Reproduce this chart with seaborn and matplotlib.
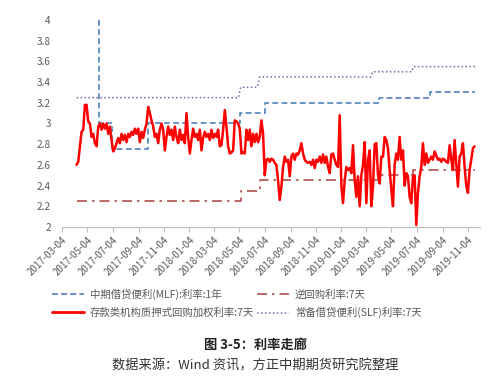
import matplotlib
matplotlib.use("Agg")
import matplotlib.pyplot as plt
from matplotlib.ticker import FuncFormatter
from matplotlib.lines import Line2D
import seaborn as sns
import pandas as pd

# ---------------- data ----------------
red_label = "存款类机构质押式回购加权利率:7天"
red_start = "2017-04-08"
red_vals = [
    2.60, 2.63, 2.78, 2.92, 2.94, 3.18, 3.18, 3.02, 3.00, 2.87, 2.90, 2.81, 2.78, 2.97, 3.00, 2.94, 3.00, 2.95, 3.00,
    2.90, 2.97, 2.84, 2.73, 2.76, 2.81, 2.86, 2.81, 2.90, 2.84, 2.89, 2.82, 2.90, 2.87, 2.92, 2.89, 2.95, 2.90, 2.95,
    2.82, 2.92, 2.86, 2.94, 3.00, 3.16, 3.10, 3.03, 2.97, 2.87, 2.90, 2.81, 2.94, 3.00, 2.94, 2.74, 2.87, 2.97, 2.89,
    2.94, 2.84, 2.97, 2.87, 2.81, 2.94, 2.84, 2.89, 2.81, 3.10, 2.87, 2.71, 2.84, 2.95, 2.87, 2.90, 2.84, 2.94, 2.74,
    2.86, 2.92, 2.87, 2.90, 2.84, 2.94, 2.86, 2.90, 2.87, 2.94, 2.78, 2.79, 2.94, 3.13, 2.97, 2.78, 2.71, 2.72, 2.74,
    3.03, 3.02, 3.00, 2.95, 2.71, 2.72, 2.71, 2.94, 2.84, 2.94, 2.78, 2.90, 2.82, 2.90, 2.82, 2.87, 3.03, 2.90, 2.50,
    2.65, 2.66,
    2.63, 2.66, 2.65, 2.62, 2.60, 2.45, 2.26, 2.39, 2.58, 2.68, 2.63, 2.65, 2.49, 2.68, 2.71, 2.65, 2.71, 2.70, 2.74,
    2.81, 2.71, 2.65, 2.63, 2.62, 2.63, 2.60, 2.65, 2.57, 2.65, 2.63, 2.68, 2.62, 2.70, 2.62, 2.68, 2.58, 2.52, 2.70,
    2.71,
    2.65, 2.60, 2.58, 3.08, 2.40, 2.23, 2.45, 2.58, 2.55, 2.57, 2.52, 2.79, 2.45, 2.29, 2.49, 2.20, 2.50, 2.60, 2.82,
    2.23, 2.65, 2.74, 2.20, 2.39, 2.80, 2.81, 2.50, 2.42, 2.68, 2.68, 2.87, 2.84, 2.76, 2.55, 2.36, 2.20, 2.60, 2.71,
    2.65,
    2.87, 2.65, 2.74, 2.40, 2.52, 2.49, 2.29, 2.23, 2.49, 2.50, 2.02, 2.33, 2.49, 2.58, 2.81, 2.60, 2.71, 2.62, 2.65,
    2.68, 2.65, 2.73, 2.69, 2.65, 2.66, 2.63, 2.66, 2.65, 2.63, 2.62, 2.79, 2.65, 2.55, 2.84, 2.62, 2.39, 2.68, 2.71,
    2.81, 2.58, 2.40, 2.33, 2.55, 2.65, 2.76, 2.78,
]

mlf_label = "中期借贷便利(MLF):利率:1年"
mlf_dates = ["2017-05-31", "2017-06-01", "2017-07-02", "2017-09-27", "2018-05-05",
             "2018-07-04", "2019-04-04", "2019-08-04", "2019-11-21"]
mlf_vals = [4.0, 3.0, 2.75, 3.0, 3.1, 3.2, 3.25, 3.3, 3.3]

repo_label = "逆回购利率:7天"
repo_dates = ["2017-04-08", "2018-04-28", "2018-05-07", "2018-06-20", "2018-06-22",
              "2019-04-04", "2019-06-25", "2019-11-21"]
repo_vals = [2.25, 2.25, 2.35, 2.35, 2.45, 2.50, 2.55, 2.55]

slf_label = "常备借贷便利(SLF)利率:7天"
slf_dates = ["2017-04-08", "2018-05-02", "2018-05-07", "2018-06-16", "2018-06-22",
             "2019-03-16", "2019-03-20", "2019-06-22", "2019-06-26", "2019-11-21"]
slf_vals = [3.25, 3.25, 3.35, 3.35, 3.45, 3.45, 3.50, 3.50, 3.55, 3.55]

xtick_labels = ["2017-03-04", "2017-05-04", "2017-07-04", "2017-09-04", "2017-11-04",
                "2018-01-04", "2018-03-04", "2018-05-04", "2018-07-04", "2018-09-04",
                "2018-11-04", "2019-01-04", "2019-03-04", "2019-05-04", "2019-07-04",
                "2019-09-04", "2019-11-04"]
yticks = [2.0, 2.2, 2.4, 2.6, 2.8, 3.0, 3.2, 3.4, 3.6, 3.8, 4.0]

title_text = "图 3-5：利率走廊"
source_text = "数据来源：Wind 资讯，方正中期期货研究院整理"

# ---------------- frames ----------------
red_df = pd.DataFrame({"date": pd.date_range(red_start, periods=len(red_vals), freq="4D"),
                       "value": red_vals})
mlf_df = pd.DataFrame({"date": pd.to_datetime(mlf_dates), "value": mlf_vals})
repo_df = pd.DataFrame({"date": pd.to_datetime(repo_dates), "value": repo_vals})
slf_df = pd.DataFrame({"date": pd.to_datetime(slf_dates), "value": slf_vals})

# ---------------- style ----------------
sns.set_theme(style="white")
plt.rcParams["font.family"] = ["Noto Sans CJK SC", "DejaVu Sans"]
plt.rcParams["axes.unicode_minus"] = False

c_mlf = "#4F81BD"
c_repo = "#B0504B"
c_slf = "#7468A8"
c_red = "#FF0000"
gray = "#595959"

fig = plt.figure(figsize=(5.0, 3.76), dpi=100)
ax = fig.add_axes([0.124, 0.3963, 0.836, 0.5505])

mlf_ls = (0, (3.5, 2.0))
repo_ls = (0, (6, 3, 1.5, 3))
slf_ls = (0, (1.0, 1.6))

sns.lineplot(data=mlf_df, x="date", y="value", ax=ax, color=c_mlf, linewidth=1.2,
             linestyle=mlf_ls, drawstyle="steps-post", estimator=None, sort=False)
sns.lineplot(data=repo_df, x="date", y="value", ax=ax, color=c_repo, linewidth=1.2,
             linestyle=repo_ls, drawstyle="steps-post", estimator=None, sort=False)
sns.lineplot(data=slf_df, x="date", y="value", ax=ax, color=c_slf, linewidth=1.1,
             linestyle=slf_ls, estimator=None, sort=False)
sns.lineplot(data=red_df, x="date", y="value", ax=ax, color=c_red, linewidth=1.8,
             estimator=None, sort=False)

ax.set_xlim(pd.Timestamp("2017-03-04"), pd.Timestamp("2019-12-03"))
ax.set_ylim(2.0, 4.0)
ax.set_yticks(yticks)
ax.yaxis.set_major_formatter(FuncFormatter(lambda v, p: f"{v:g}"))
ax.set_xticks(pd.to_datetime(xtick_labels))
ax.set_xticklabels(xtick_labels, rotation=45, ha="right", rotation_mode="anchor")
ax.set_xlabel("")
ax.set_ylabel("")

ax.tick_params(axis="y", length=0, labelsize=7.2, labelcolor=gray, pad=8)
ax.tick_params(axis="x", length=3.5, width=0.8, color="#BFBFBF", direction="out",
               labelsize=7.0, labelcolor=gray, pad=2, bottom=True)
sns.despine(ax=ax, left=True)
ax.spines["bottom"].set_color("#BFBFBF")
ax.spines["bottom"].set_linewidth(0.8)

handles = [
    Line2D([], [], color=c_mlf, linewidth=1.2, linestyle=mlf_ls),
    Line2D([], [], color=c_red, linewidth=2.0),
    Line2D([], [], color=c_repo, linewidth=1.2, linestyle=repo_ls),
    Line2D([], [], color=c_slf, linewidth=1.1, linestyle=slf_ls),
]
labels = [mlf_label, red_label, repo_label, slf_label]
leg = fig.legend(handles, labels, ncol=2, loc="center", bbox_to_anchor=(0.474, 0.193),
                 frameon=False, fontsize=7.5, handlelength=3.0, handletextpad=0.6,
                 columnspacing=0.3, labelspacing=0.75)
for t in leg.get_texts():
    t.set_color(gray)

fig.text(0.512, 0.082, title_text, ha="center", va="center", fontsize=9.5,
         fontweight="bold", color="#222222")
fig.text(0.51, 0.027, source_text, ha="center", va="center", fontsize=9.5, color="#333333")

fig.savefig("out.png", dpi=100)
